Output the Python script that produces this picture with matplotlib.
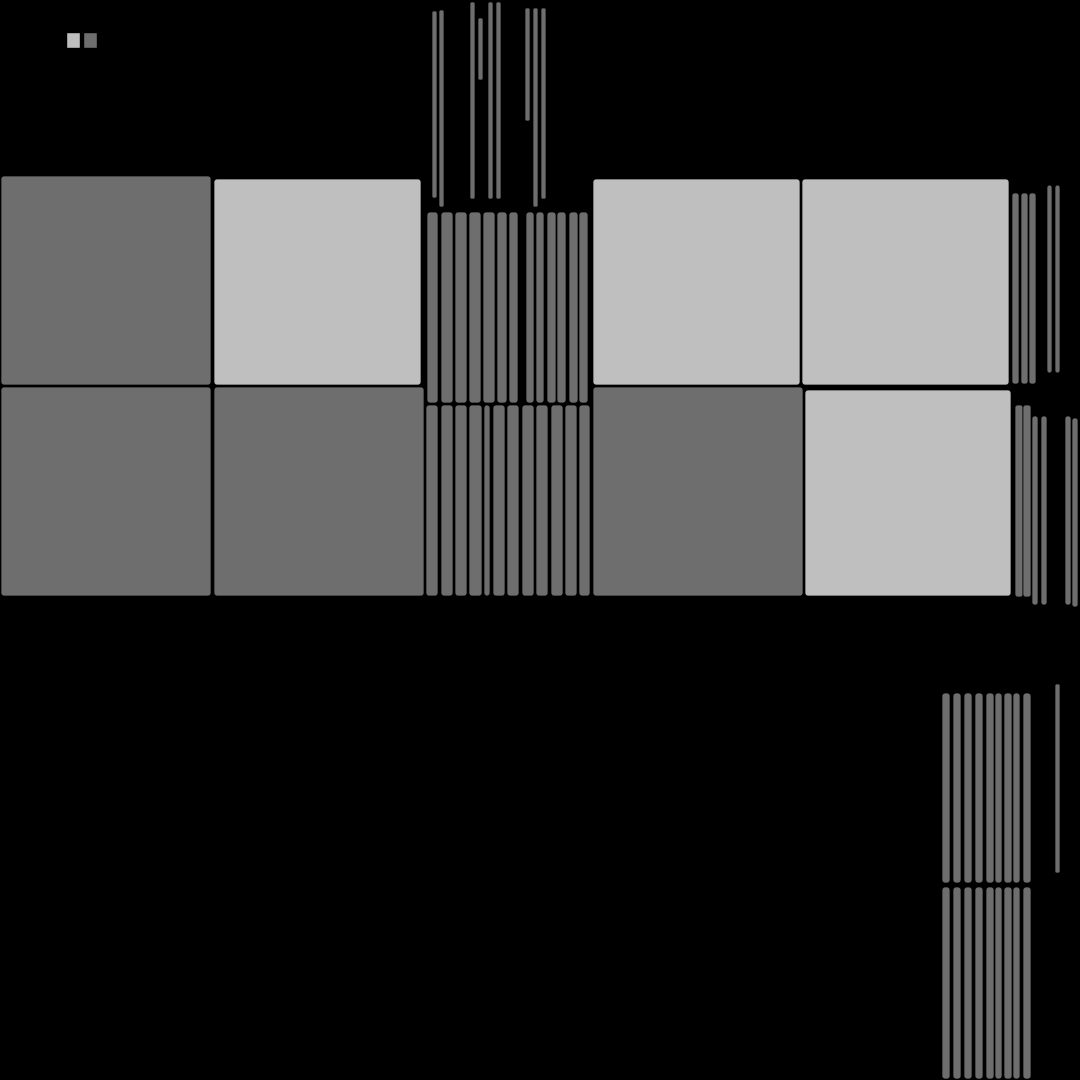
import matplotlib
matplotlib.use('Agg')
import matplotlib.pyplot as plt
from matplotlib.patches import FancyBboxPatch, Patch

DARK = '#6e6e6e'
LIGHT = '#bfbfbf'

# big blocks (left, top, width, height, shade)
big_left = [1, 214, 593, 802, 1, 214, 593, 805]
big_top = [176, 179, 179, 179, 387, 387, 387, 390]
big_width = [210, 207, 207, 207, 210, 210, 210, 206]
big_height = [209, 206, 206, 206, 209, 209, 209, 206]
big_shade = ['dark', 'light', 'light', 'light', 'dark', 'dark', 'dark', 'light']

# thin bars, middle cluster
mid_top_left = [427, 441, 455, 469, 483, 497, 509, 526, 536, 547, 557, 569, 579]
mid_top_width = [11, 12, 12, 12, 12, 10, 9, 8, 8, 9, 9, 9, 9]
mid_bot_left = [426, 441, 455, 469, 484, 493, 507, 522, 536, 551, 565, 579]
mid_bot_width = [12, 12, 12, 13, 6, 12, 12, 12, 12, 12, 12, 11]

# floating thin bars on top
float_left = [432, 439, 470, 478, 488, 496, 525, 533, 541]
float_top = [11, 10, 2, 18, 2, 2, 8, 8, 8]
float_bottom = [198, 207, 199, 80, 199, 199, 121, 207, 199]

# right edge cluster
right_left = [1012, 1021, 1029, 1047, 1055, 1015, 1023, 1032, 1041, 1065, 1072]
right_width = [7, 7, 7, 5, 5, 8, 8, 6, 6, 6, 6]
right_top = [193, 193, 193, 185, 185, 405, 405, 416, 416, 416, 418]
right_bottom = [384, 384, 384, 373, 373, 597, 597, 605, 605, 605, 607]

# lower right cluster
low_left = [942, 953, 964, 975, 986, 995, 1004, 1013, 1023]
low_width = [8, 8, 8, 8, 8, 7, 8, 7, 8]
single_left, single_top, single_bottom = 1055, 684, 873

fig = plt.figure(figsize=(10.8, 10.8), dpi=100, facecolor='black')
ax = fig.add_axes([0, 0, 1, 1])
ax.set_facecolor('black')
ax.set_xlim(0, 1080)
ax.set_ylim(1080, 0)
ax.axis('off')


def rounded(bars, r):
    # swap the plain bars for rounded ones of the same size
    for b in bars:
        w, h = b.get_width(), b.get_height()
        p = FancyBboxPatch((b.get_x(), b.get_y()), w, h,
                           boxstyle=f'round,pad=0,rounding_size={min(r, w / 2, h / 2)}',
                           fc=b.get_facecolor(), ec='black', lw=0.5)
        ax.add_patch(p)
        b.remove()


cols = [DARK if s == 'dark' else LIGHT for s in big_shade]
rounded(ax.bar(big_left, big_height, width=big_width, bottom=big_top,
               align='edge', color=cols), 3)

rounded(ax.bar(mid_top_left, [403 - 212] * len(mid_top_left), width=mid_top_width,
               bottom=212, align='edge', color=DARK), 3)
rounded(ax.bar(mid_bot_left, [596 - 405] * len(mid_bot_left), width=mid_bot_width,
               bottom=405, align='edge', color=DARK), 3)

fh = [b - t for t, b in zip(float_top, float_bottom)]
rounded(ax.bar(float_left, fh, width=5, bottom=float_top, align='edge', color=DARK), 1.5)

rh = [b - t for t, b in zip(right_top, right_bottom)]
rounded(ax.bar(right_left, rh, width=right_width, bottom=right_top,
               align='edge', color=DARK), 2.5)

rounded(ax.bar(low_left, [883 - 693] * len(low_left), width=low_width,
               bottom=693, align='edge', color=DARK), 3)
rounded(ax.bar(low_left, [1079 - 887] * len(low_left), width=low_width,
               bottom=887, align='edge', color=DARK), 3)
rounded(ax.bar([single_left], [single_bottom - single_top], width=5,
               bottom=single_top, align='edge', color=DARK), 1.5)

handles = [Patch(fc=LIGHT, ec='black'), Patch(fc=DARK, ec='black')]
ax.legend(handles, ['', ''], ncol=2, frameon=False, loc='upper left',
          bbox_to_anchor=(66 / 1080, 1 - 32 / 1080), borderaxespad=0, borderpad=0,
          handlelength=1.0, handleheight=1.4, handletextpad=0, columnspacing=0.25)

fig.savefig('out.png', dpi=100, facecolor='black')
